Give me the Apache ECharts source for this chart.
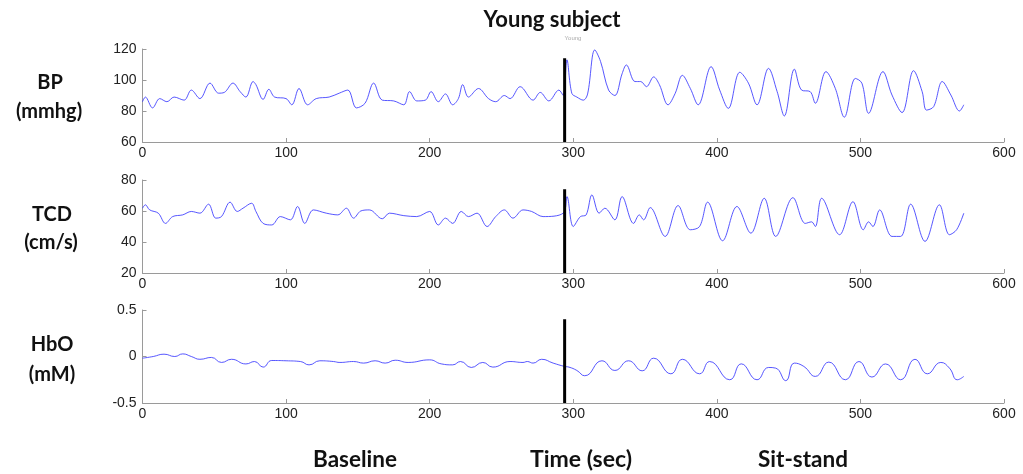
<!DOCTYPE html>
<html><head><meta charset="utf-8">
<script src="https://cdn.jsdelivr.net/npm/echarts@6/dist/echarts.min.js"></script>
<style>html,body{margin:0;padding:0;background:#fff}#c{width:1023px;height:474px}</style>
</head><body><div id="c"></div>
<script>
// ---- Data ----
const xTicks = [0, 100, 200, 300, 400, 500, 600];
const bpTicks = [60, 80, 100, 120];
const tcdTicks = [20, 40, 60, 80];
const hboTicks = [-0.5, 0, 0.5];

const bpTime = [0,2,7,12,17,22,29,34,40,47,53,57,63,68,72,77,79,84,88,92,100,104,109,115,121,130,137,143,149,155,161,167,175,182,186,191,197,201,206,211,216,220,223,227,234,241,246,252,256,263,272,277,283,290,293,
  295.6,299,302.5,307,310,315,319,324.6,329,334,337,343,347,351,356,360,366,371,376,381.5,387,396,402,408,416,422,428,436,442,447,454,459,465,468.6,476,482.5,488.8,496.5,501,505.7,515.7,522,529,537,543,546,551,557,563,569,572];
const bpValues = [86,89,82,88,86,89,87,93.5,88,98,91.5,92,98,92.5,89,99,97,87.5,94,89,88,84,94.5,84,88,89,91.5,93.5,82,85,98,87,86.5,84,92.5,86.5,87,92.5,86,91,84,88,97,89,94.5,88,86,90,88,95.7,87,92,86.5,93.5,90,
  113,91.4,89,87,91,119.4,112,93.5,90,104,109.7,99,99,95.7,102,97,84,91.4,103,94.6,84,108.6,93.5,81.7,105,98,84,107.5,92.5,76.8,107,93.5,92.5,85,105.4,94.6,76,101,98,78.5,105.4,90.3,79,106,92.5,80.6,82.8,99,90.3,80,84];

const tcdTime = [0,2,5,11,16,21,28,34,40,46,51,55,61,66,70,76,79,84,90,96,103,108,113,119,128,136,142,147,152,158,167,172,182,191,200,206,211,216,222,227,233,240,246,252,258,265,271,279,293,
  295.6,300,305,309,313,318,322,329,334,342,346,349,353.6,364,373,381.5,388,393.6,404,414,423.7,433,441,453,461.6,466,468.6,473,485.5,494.8,502,505.7,508.7,513.4,522,528,535,545,555,562,567,572];
const tcdValues = [61.8,64,60.7,58.6,52,56.4,57.5,59.7,58.6,64.4,55.4,56.4,65.7,59.7,61.8,65,59.7,52,51,56.4,54.3,62.9,52,60.7,58.6,57.5,61.8,55.4,60,60.7,55,58.6,57,56.4,59.7,51,55.4,52,59.7,56.4,58.6,50,56.4,60.7,55.4,60.7,59.7,56.4,58.6,
  69.3,50,56.4,57.5,70.4,58.6,61.8,54.3,69.3,52,57.5,54.3,62.2,43.6,63.5,47.9,50,65.7,40.8,62.9,45.7,68.2,43.6,68.6,52,53,50,68.2,44.7,66,47.9,53,50,60.7,43.6,43.6,64.4,40.4,64,44.7,47.9,58.6];

const hboTime = [0,7.5,15,22.5,28,34,40,48,55,62,72,78,84,90,100,110,116,123.5,133,137.5,147,154,162,169,176,185,200,208,216,221.5,229,237,244,256,265,268,272,278,286,294,
  297,302.5,308,320,329,338.5,348,356,368,376,388,395,409,417,428,436,441,448,454,460.6,468.6,478,489.5,499,508,517.5,528,538,546.6,556,562,567.5,572];
const hboValues = [-0.018,0,0.025,0,0.028,0,-0.03,-0.01,-0.064,-0.03,-0.08,-0.054,-0.114,-0.043,-0.046,-0.054,-0.09,-0.046,-0.054,-0.064,-0.054,-0.071,-0.046,-0.071,-0.04,-0.064,-0.036,-0.079,-0.09,-0.054,-0.118,-0.064,-0.114,-0.054,-0.064,-0.054,-0.071,-0.03,-0.071,-0.107,
  -0.114,-0.15,-0.207,-0.046,-0.15,-0.046,-0.154,-0.018,-0.186,-0.03,-0.186,-0.054,-0.25,-0.079,-0.25,-0.118,-0.125,-0.26,-0.071,-0.107,-0.214,-0.06,-0.25,-0.054,-0.221,-0.08,-0.25,-0.03,-0.186,-0.064,-0.125,-0.25,-0.214];

// Onset marker (vertical black bar) per panel: [bottom, top]
const markerX = 294;
const bpMarker = [60, 114];
const tcdMarker = [20, 74];
const hboMarker = [-0.5, 0.4];

// ---- Chart ----
const zip = (a, b) => a.map((t, i) => [t, b[i]]);
const gridLeft = 142.5, gridRight = 19;
const grids = [
  { left: gridLeft, right: gridRight, top: 49, height: 93 },
  { left: gridLeft, right: gridRight, top: 180, height: 93 },
  { left: gridLeft, right: gridRight, top: 310, height: 93 }
];
const axisColor = '#9a9a9a';
const labelStyle = { color: '#222', fontSize: 14, fontFamily: 'Liberation Sans' };
function xAx(i) {
  return {
    type: 'value', gridIndex: i, min: xTicks[0], max: xTicks[xTicks.length - 1], interval: xTicks[1] - xTicks[0],
    axisLine: { show: true, onZero: false, lineStyle: { color: axisColor, width: 1 } },
    axisTick: { show: true, inside: true, length: 4, lineStyle: { color: axisColor } },
    splitLine: { show: false },
    axisLabel: Object.assign({ margin: 4 }, labelStyle)
  };
}
function yAx(i, ticks) {
  return {
    type: 'value', gridIndex: i, min: ticks[0], max: ticks[ticks.length - 1],
    interval: ticks[1] - ticks[0],
    axisLine: { show: true, onZero: false, lineStyle: { color: axisColor, width: 1 } },
    axisTick: { show: true, inside: true, length: 4, lineStyle: { color: axisColor } },
    splitLine: { show: false },
    axisLabel: Object.assign({ margin: 6 }, labelStyle)
  };
}
function trace(i, data, smooth) {
  return {
    type: 'line', xAxisIndex: i, yAxisIndex: i, data: data, showSymbol: false, smooth: smooth,
    lineStyle: { color: '#3a3aff', width: 1, opacity: 0.85 }, silent: true, z: 2
  };
}
function marker(i, m) {
  return {
    type: 'line', xAxisIndex: i, yAxisIndex: i, data: [[markerX, m[0]], [markerX, m[1]]],
    showSymbol: false, lineStyle: { color: '#000', width: 3 }, silent: true, z: 3
  };
}
const boldFont = 'Lato, "Open Sans", sans-serif';
function label(x, y, s, size) {
  return { type: 'text', x: x, y: y, style: { text: s, fill: '#111', font: 'bold ' + size + 'px ' + boldFont, align: 'center', verticalAlign: 'middle' } };
}
const chart = echarts.init(document.getElementById('c'), null, { renderer: 'canvas' });
chart.setOption({
  animation: false,
  backgroundColor: '#fff',
  grid: grids,
  xAxis: [xAx(0), xAx(1), xAx(2)],
  yAxis: [yAx(0, bpTicks), yAx(1, tcdTicks), yAx(2, hboTicks)],
  series: [
    trace(0, zip(bpTime, bpValues), 0.35), marker(0, bpMarker),
    trace(1, zip(tcdTime, tcdValues), 0.35), marker(1, tcdMarker),
    trace(2, zip(hboTime, hboValues), 0.5), marker(2, hboMarker)
  ],
  graphic: [
    label(552, 20, 'Young subject', 22),
    { type: 'text', x: 573, y: 38, style: { text: 'Young', fill: '#aaa', font: '6px sans-serif', align: 'center', verticalAlign: 'middle' } },
    label(50, 83, 'BP', 20),
    label(49, 112, '(mmhg)', 20),
    label(52, 215, 'TCD', 20),
    label(51, 243, '(cm/s)', 20),
    label(52, 345, 'HbO', 20),
    label(52, 375, '(mM)', 20),
    label(355, 460, 'Baseline', 22.5),
    label(581, 460, 'Time (sec)', 23),
    label(803, 460, 'Sit-stand', 22.5)
  ]
});
</script>
</body></html>
